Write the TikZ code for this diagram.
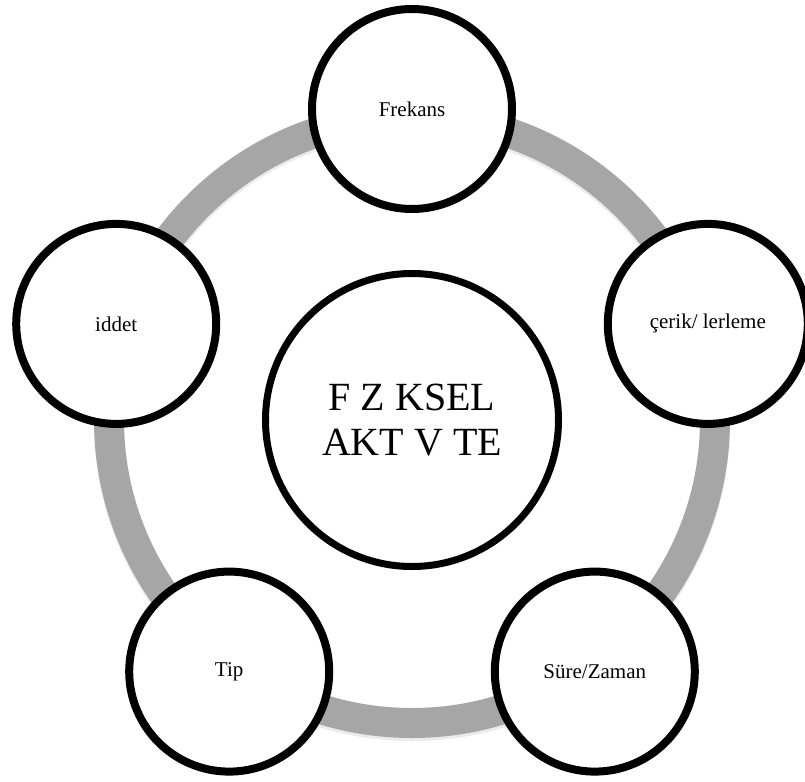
\documentclass[tikz,border=0pt]{standalone}
\usepackage{fontspec}
\setmainfont{Liberation Serif}
\usetikzlibrary{shadows}
\definecolor{ringgray}{RGB}{166,166,166}
\begin{document}
\begin{tikzpicture}[x=1pt,y=-1pt,
  outercirc/.style={circle, draw=black, line width=8pt, fill=white,
    minimum size=200pt, inner sep=0pt, text=black,
    font=\fontsize{21}{25}\selectfont,
    circular drop shadow={opacity=0.18, shadow xshift=2pt, shadow yshift=-3pt, shadow scale=1.0}},
  centercirc/.style={circle, draw=black, line width=7pt, fill=white,
    minimum size=293pt, inner sep=0pt, align=center, text=black,
    font=\fontsize{40}{45}\selectfont,
    circular drop shadow={opacity=0.18, shadow xshift=2pt, shadow yshift=-3pt, shadow scale=1.0}},
  ringline/.style={line width=30pt, draw=ringgray}
]
\useasboundingbox (0,0) rectangle (805,781);
\coordinate (o) at (412,420);
% ring
\draw[line width=30pt, draw=black, opacity=0.08] ([yshift=-3pt]o) circle[radius=303];
\draw[ringline] (o) circle[radius=303];
% nodes
\node[centercirc] (c) at (o) {F Z KSEL\\AKT V TE};
\node[outercirc] (n1) at (412,109) {Frekans};
\node[outercirc] (n2) at (707.8,323.9) {çerik/ lerleme};
\node[outercirc] (n3) at (594.8,671.6) {Süre/Zaman};
\node[outercirc] (n4) at (229.2,671.6) {Tip};
\node[outercirc] (n5) at (116.2,323.9) {iddet};
\end{tikzpicture}
\end{document}
